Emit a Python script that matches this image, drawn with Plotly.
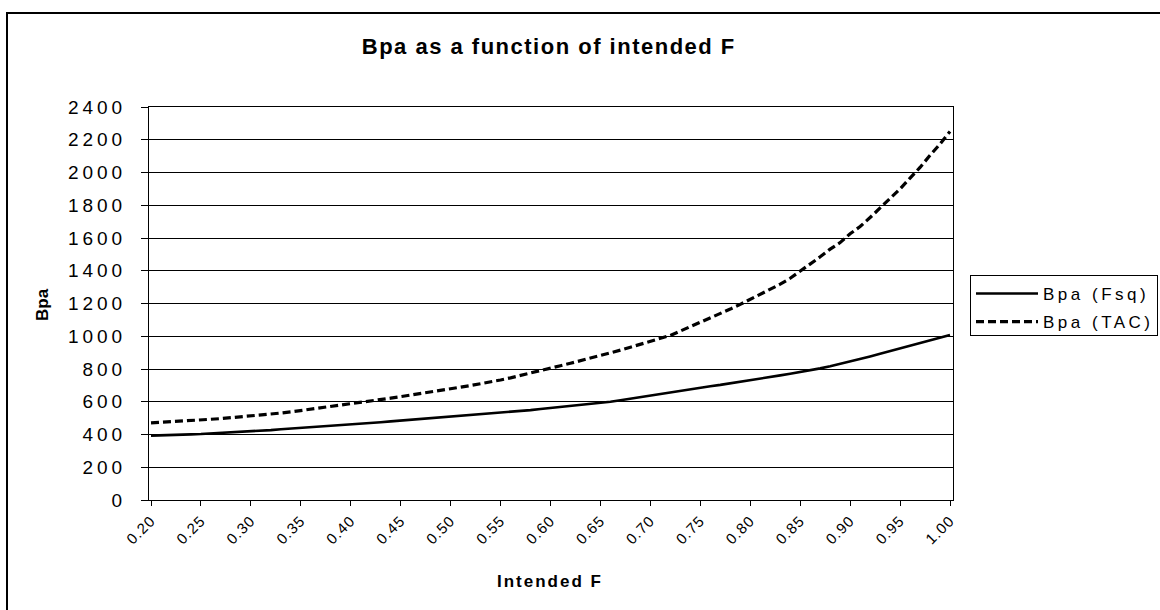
import plotly.graph_objects as go

# Intended F (categories)
intended_f = [0.20, 0.21, 0.22, 0.23, 0.24, 0.25, 0.26, 0.27, 0.28, 0.29,
              0.30, 0.31, 0.32, 0.33, 0.34, 0.35, 0.36, 0.37, 0.38, 0.39,
              0.40, 0.41, 0.42, 0.43, 0.44, 0.45, 0.46, 0.47, 0.48, 0.49,
              0.50, 0.51, 0.52, 0.53, 0.54, 0.55, 0.56, 0.57, 0.58, 0.59,
              0.60, 0.61, 0.62, 0.63, 0.64, 0.65, 0.66, 0.67, 0.68, 0.69,
              0.70, 0.71, 0.72, 0.73, 0.74, 0.75, 0.76, 0.77, 0.78, 0.79,
              0.80, 0.81, 0.82, 0.83, 0.84, 0.85, 0.86, 0.87, 0.88, 0.89,
              0.90, 0.91, 0.92, 0.93, 0.94, 0.95, 0.96, 0.97, 0.98, 0.99,
              1.00]

bpa_fsq = [393, 396, 398, 399, 401, 403, 406, 409, 412, 416,
           419, 423, 427, 432, 436, 440, 443, 447, 452, 457,
           461, 466, 470, 475, 480, 485, 490, 494, 498, 502,
           507, 511, 516, 521, 527, 532, 538, 543, 549, 556,
           562, 568, 574, 580, 587, 593, 600, 609, 619, 629,
           639, 649, 659, 668, 677, 686, 695, 703, 712, 721,
           731, 741, 751, 761, 771, 781, 792, 804, 817, 831,
           846, 861, 877, 893, 910, 927, 944, 960, 975, 991,
           1008]

bpa_tac = [471, 474, 478, 481, 485, 489, 493, 497, 502, 507,
           512, 518, 524, 531, 538, 546, 554, 563, 572, 581,
           590, 598, 606, 614, 622, 631, 640, 649, 659, 669,
           679, 689, 699, 709, 720, 733, 746, 760, 776, 792,
           806, 820, 835, 850, 866, 882, 898, 915, 933, 951,
           969, 987, 1005, 1032, 1058, 1083, 1110, 1138, 1166, 1195,
           1225, 1257, 1288, 1318, 1354, 1396, 1440, 1485, 1532, 1572,
           1626, 1670, 1725, 1783, 1840, 1900, 1966, 2031, 2105, 2174,
           2251]

x_tick_vals = [0.20, 0.25, 0.30, 0.35, 0.40, 0.45, 0.50, 0.55, 0.60,
               0.65, 0.70, 0.75, 0.80, 0.85, 0.90, 0.95, 1.00]
x_tick_text = ["0.20", "0.25", "0.30", "0.35", "0.40", "0.45", "0.50", "0.55", "0.60",
               "0.65", "0.70", "0.75", "0.80", "0.85", "0.90", "0.95", "1.00"]
y_tick_vals = [0, 200, 400, 600, 800, 1000, 1200, 1400, 1600, 1800, 2000, 2200, 2400]

FONT = "Liberation Sans, Arial, sans-serif"

fig = go.Figure()
fig.add_trace(go.Scatter(x=intended_f, y=bpa_fsq, mode="lines", name="Bpa (Fsq)",
                         legendgroup="a",
                         line=dict(color="black", width=2.6)))
fig.add_trace(go.Scatter(x=intended_f, y=bpa_tac, mode="lines", name="Bpa (TAC)",
                         legendgroup="b",
                         line=dict(color="black", width=3.2, dash="8px,4px")))

L, R, T, B = 149, 953, 107, 500
W, H = 1160, 610
pw, ph = R - L, B - T

def px(x):
    return (x - L) / pw

def py(y):
    return (B - y) / ph

fig.update_layout(
    width=W, height=H,
    margin=dict(l=L, r=W - R, t=T, b=H - B, pad=0),
    paper_bgcolor="white", plot_bgcolor="white",
    font=dict(family=FONT, color="black"),
    showlegend=True,
    legend=dict(x=px(970), y=py(275), xanchor="left", yanchor="top",
                bordercolor="black", borderwidth=1, bgcolor="white",
                font=dict(family=FONT, size=17, color="black"),
                tracegroupgap=3, itemwidth=62, traceorder="grouped"),
    xaxis=dict(range=[0.198, 1.003], tickvals=x_tick_vals, ticktext=x_tick_text,
               tickangle=-45, tickfont=dict(family=FONT, size=15, color="black"),
               showgrid=False, zeroline=False, showline=True, linecolor="black",
               linewidth=1, mirror=True, ticks="outside", ticklen=5, tickcolor="black"),
    yaxis=dict(range=[0, 2400], tickvals=y_tick_vals,
               tickfont=dict(family=FONT, size=19, color="black"),
               showgrid=True, gridcolor="black", gridwidth=1, zeroline=False,
               showline=True, linecolor="black", linewidth=1, mirror=True,
               ticks="outside", ticklen=7, tickcolor="black", ticklabelstandoff=11),
)

fig.add_annotation(text="<b>Bpa as a function of intended F</b>", xref="paper", yref="paper",
                   x=px(549), y=py(46), xanchor="center", yanchor="middle", showarrow=False,
                   font=dict(family=FONT, size=22, color="black"))
fig.add_annotation(text="<b>Intended F</b>", xref="paper", yref="paper",
                   x=px(550), y=py(581), xanchor="center", yanchor="middle", showarrow=False,
                   font=dict(family=FONT, size=17, color="black"))
fig.add_annotation(text="<b>Bpa</b>", xref="paper", yref="paper",
                   x=px(42), y=py(305), xanchor="center", yanchor="middle", showarrow=False,
                   textangle=-90, font=dict(family=FONT, size=17, color="black"))

# outer chart border
fig.add_shape(type="rect", xref="paper", yref="paper",
              x0=px(7), x1=px(1175), y0=py(625), y1=py(13),
              line=dict(color="black", width=2), fillcolor="rgba(0,0,0,0)", layer="above")

# widen the letter spacing of the texts, as in the reference
post_js = """
try {
  function ls(sel, v) { document.querySelectorAll(sel).forEach(function (t) { t.style.letterSpacing = v; }); }
  ls('.ytick text', '4px');
  ls('.xtick text', '1px');
  ls('.legendtext', '3.5px');
  var anns = document.querySelectorAll('.annotation-text');
  if (anns[0]) anns[0].style.letterSpacing = '1.5px';
  if (anns[1]) anns[1].style.letterSpacing = '2px';
  var bg = document.querySelector('.legend rect.bg');
  if (bg) { bg.setAttribute('width', '187'); bg.setAttribute('height', '60'); }
  document.querySelectorAll('clipPath[id^="legend"] rect').forEach(function (r) { r.setAttribute('width', '195'); });
} catch (e) {}
"""

fig.write_html("out.html", post_script=post_js)
